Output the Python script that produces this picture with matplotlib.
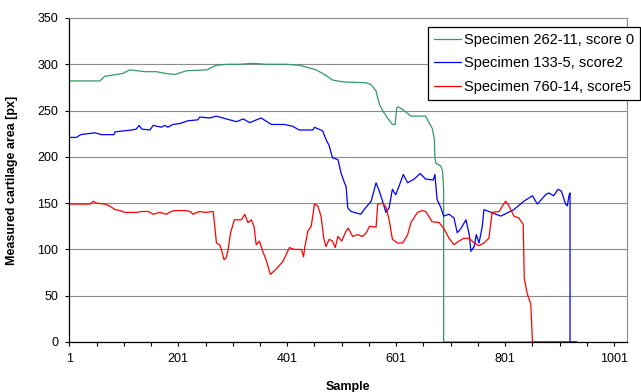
"""
Cartilage area per sample for three specimens (Excel-style line chart).
"""

import matplotlib
matplotlib.use('Agg')  # no display
import matplotlib.pyplot as plt

# Specimen 262-11, score 0
sample_262 = [1, 57, 66, 99, 112, 140, 161, 179, 195, 216, 253, 271, 292, 314,
              338, 362, 399, 423, 436, 454, 472, 484, 503, 546, 555, 564, 570,
              576, 585, 594, 599, 602, 605, 613, 628, 655, 661, 667, 671, 672,
              674, 683, 686, 688, 688, 932]
area_262 = [282, 282, 287, 290, 294, 292, 292, 290, 289, 293, 294, 299, 300, 300,
            301, 300, 300, 299, 297, 294, 288, 283, 281, 280, 278, 271, 257,
            250, 242, 235, 235, 253, 254, 251, 244, 244, 237, 231, 219, 199,
            193, 190, 185, 165, 0, 0]

# Specimen 133-5, score2
sample_133 = [1, 14, 22, 48, 60, 83, 85, 115, 124, 129, 134, 149, 155, 170, 176,
              182, 191, 204, 219, 237, 240, 259, 271, 289, 308, 320, 332, 353,
              372, 396, 411, 423, 448, 451, 466, 472, 478, 484, 494, 500, 506,
              509, 512, 518, 524, 536, 542, 555, 564, 570, 576, 582, 588, 594,
              600, 606, 614, 622, 634, 645, 655, 669, 672, 676, 683, 688, 698,
              707, 713, 719, 729, 735, 738, 744, 748, 753, 759, 762, 771, 793,
              817, 835, 851, 860, 875, 881, 890, 898, 904, 912, 915, 918, 920,
              920, 932]
area_133 = [221, 221, 224, 226, 224, 224, 227, 229, 230, 234, 230, 229, 234, 232,
            234, 232, 235, 236, 239, 240, 243, 242, 244, 241, 238, 241, 237, 242,
            235, 235, 233, 229, 229, 232, 228, 219, 212, 199, 197, 182, 172,
            168, 145, 141, 140, 138, 143, 152, 172, 163, 152, 140, 145, 165,
            159, 168, 181, 172, 176, 182, 176, 175, 181, 154, 145, 136, 138,
            134, 118, 122, 132, 116, 98, 103, 116, 107, 125, 143, 141, 136,
            143, 152, 158, 149, 159, 161, 158, 165, 163, 149, 147, 158, 161,
            0, 0]

# Specimen 760-14, score5
sample_760 = [1, 39, 45, 51, 66, 75, 85, 94, 103, 124, 134, 146, 155, 167, 179,
              188, 195, 213, 223, 228, 240, 250, 265, 268, 271, 277, 280, 285,
              289, 292, 297, 304, 317, 323, 329, 335, 340, 344, 350, 356, 362,
              370, 381, 393, 405, 414, 427, 431, 433, 439, 445, 451, 457, 463,
              468, 472, 478, 484, 489, 494, 501, 509, 513, 521, 530, 539, 546,
              552, 564, 567, 576, 582, 588, 594, 603, 613, 622, 628, 640, 649,
              655, 667, 680, 689, 698, 707, 716, 725, 735, 744, 753, 762, 771,
              777, 790, 796, 802, 808, 817, 826, 834, 836, 841, 848, 851, 932]
area_760 = [149, 149, 152, 150, 149, 147, 143, 142, 140, 140, 141, 141, 138, 140,
            138, 141, 142, 142, 141, 138, 141, 140, 141, 125, 107, 105, 100, 89,
            91, 98, 118, 132, 132, 138, 129, 132, 125, 105, 109, 98, 89,
            73, 79, 87, 102, 100, 100, 92, 102, 120, 125, 149, 147, 136,
            112, 103, 111, 109, 102, 114, 109, 120, 123, 114, 116, 114, 118,
            125, 124, 149, 150, 146, 132, 111, 107, 107, 116, 129, 140, 142,
            141, 130, 129, 122, 112, 105, 109, 112, 112, 107, 104, 107, 112,
            140, 141, 147, 152, 147, 136, 134, 127, 69, 53, 41, 0, 0]

LABELS = ['Specimen 262-11, score 0', 'Specimen 133-5, score2',
          'Specimen 760-14, score5']
COLORS = ['#339966', '#0000FF', '#FF0000']

x_ticks = list(range(1, 1002, 50))
x_ticklabels = [str(t) if (t - 1) % 200 == 0 else '' for t in x_ticks]
y_ticks = list(range(0, 351, 50))

plt.rcParams['font.family'] = ['Liberation Sans', 'DejaVu Sans']

fig = plt.figure(figsize=(6.41, 3.92), dpi=100)
ax = fig.add_axes([69.3 / 641, 1 - 342 / 392, 557.4 / 641, 324 / 392])

series = [(sample_262, area_262), (sample_133, area_133), (sample_760, area_760)]
for (xs, ys), label, color in zip(series, LABELS, COLORS):
    ax.plot(xs, ys, color=color, lw=0.9, label=label)

ax.set_xlim(1, 1024)
ax.set_ylim(0, 350)
ax.set_xticks(x_ticks)
ax.set_xticklabels(x_ticklabels)
ax.set_yticks(y_ticks)
ax.tick_params(labelsize=9, length=3, width=0.8, direction='out', pad=5,
               colors='black')

# Excel look: gray plot-area border, black axis lines, horizontal grid only
ax.grid(axis='y', color='#8c8c8c', lw=0.8)
ax.set_axisbelow(True)
for side in ('top', 'right'):
    ax.spines[side].set_color('#8c8c8c')
    ax.spines[side].set_linewidth(0.8)
for side in ('left', 'bottom'):
    ax.spines[side].set_color('black')
    ax.spines[side].set_linewidth(0.9)

ax.set_xlabel('Sample', fontsize=9, fontweight='bold', va='center')
ax.xaxis.set_label_coords(0.5, -0.139)
ax.set_ylabel('Measured cartilage area [px]', fontsize=9, fontweight='bold',
              va='center')
ax.yaxis.set_label_coords(-0.103, 0.5)

leg = ax.legend(loc='upper left', bbox_to_anchor=(428 / 641, 1 - 27 / 392),
                bbox_transform=fig.transFigure, borderaxespad=0,
                fontsize=10.5, frameon=True, fancybox=False, framealpha=1,
                edgecolor='black', handlelength=1.85, handletextpad=0.25,
                labelspacing=0.65, borderpad=0.4)
leg.get_frame().set_linewidth(0.9)

fig.savefig('out.png', dpi=100)
